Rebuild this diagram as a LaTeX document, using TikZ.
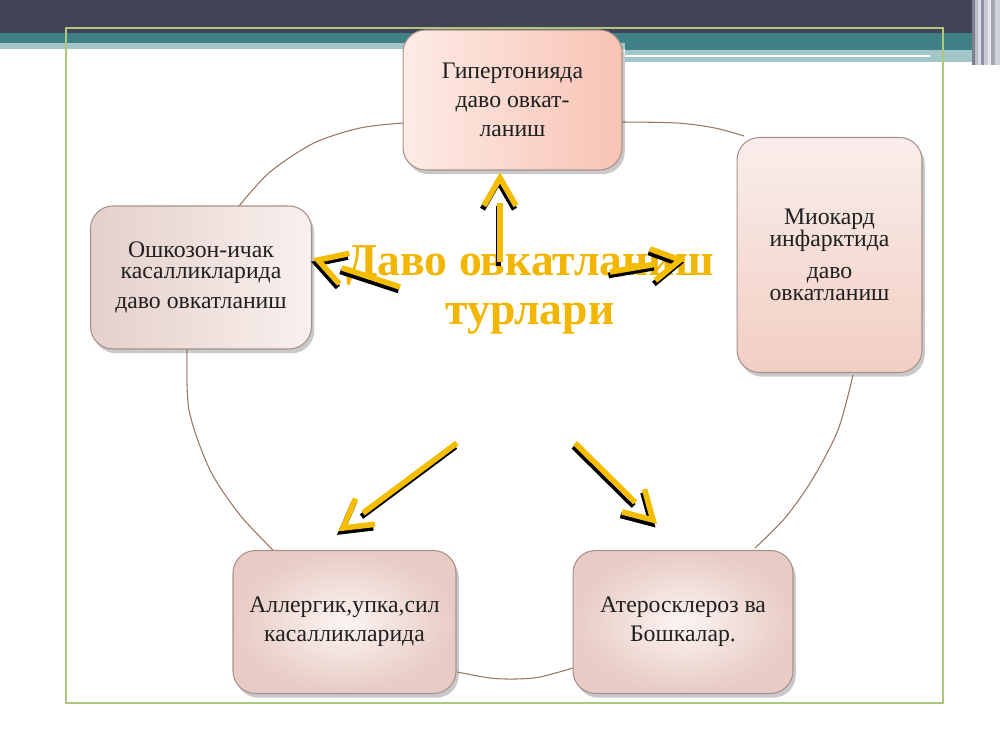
\documentclass[tikz,border=0pt]{standalone}
\usepackage{fontspec}
\setmainfont{Liberation Serif}
\usetikzlibrary{calc,shadows}
\definecolor{topdark}{HTML}{424357}
\definecolor{tealA}{HTML}{3E8086}
\definecolor{tealB}{HTML}{A3C7C9}
\definecolor{framegreen}{HTML}{AEC67E}
\definecolor{arcbrown}{HTML}{9A7560}
\definecolor{goldtxt}{HTML}{F2B600}
\definecolor{goldarr}{HTML}{F5BD00}
\definecolor{boxedge}{HTML}{A8918B}
\definecolor{stA}{HTML}{7D7E90}
\definecolor{stB}{HTML}{B9BAC6}
\definecolor{stC}{HTML}{DADBE3}
\definecolor{stD}{HTML}{8F90A2}
\definecolor{stE}{HTML}{C9CAD4}
\definecolor{stF}{HTML}{E8E8EE}
\definecolor{stG}{HTML}{A5A6B4}
\definecolor{stH}{HTML}{D0D1DA}
\newcommand{\goldarrow}[3]{%
  \coordinate (#1e) at ($(#3)!0.5cm!(#2)$);
  \coordinate (#1a) at ($(#3)!0.64cm!30:(#2)$);
  \coordinate (#1b) at ($(#3)!0.64cm!-30:(#2)$);
  \draw[arrowshadow] ([shift={(-1.5,3.5)}]#2) -- ([shift={(-1.5,3.5)}]#1e);
  \draw[arrowshadow] ([shift={(-1.5,3.5)}]#1a) -- ([shift={(-1.5,3.5)}]#3) -- ([shift={(-1.5,3.5)}]#1b);
  \draw[arrowbody] (#2) -- (#1e);
  \draw[arrowbody] (#1a) -- (#3) -- (#1b);
}
\begin{document}
\begin{tikzpicture}[x=0.02cm,y=-0.02cm,
  box/.style={draw=boxedge, line width=0.6pt, rounded corners=0.45cm, align=center,
    text=black!88, font=\fontsize{13.5}{16.5}\selectfont,
    drop shadow={shadow xshift=1.6pt, shadow yshift=-2.4pt, opacity=0.35, fill=black!60}},
  arcline/.style={draw=arcbrown, line width=0.6pt},
  arrowbody/.style={draw=goldarr, line width=3.2pt, line join=miter},
  arrowshadow/.style={draw=black, line width=3.2pt, line join=miter},
  titletext/.style={text=goldtxt, align=center, font=\bfseries\fontsize{26}{27.5}\selectfont}]
\useasboundingbox (0,0) rectangle (1000,750);
\fill[white] (0,0) rectangle (1000,750);
% top band
\fill[topdark] (0,0) rectangle (1000,33);
\fill[tealA] (0,33) rectangle (972,43);
\fill[tealB] (0,43) rectangle (972,49);
\fill[tealA] (625,43) rectangle (972,50);
\fill[tealB] (625,50) rectangle (972,62);
\fill[white] (625,55) rectangle (930,57);
\fill[stA] (972,0) rectangle (975,65);
\fill[stB] (975,0) rectangle (978,65);
\fill[stC] (978,0) rectangle (981,65);
\fill[stD] (981,0) rectangle (984,65);
\fill[stE] (984,0) rectangle (988,65);
\fill[stF] (988,0) rectangle (991,65);
\fill[stG] (991,0) rectangle (995,65);
\fill[stH] (995,0) rectangle (1000,65);
% frame
\draw[framegreen, line width=1pt] (66,28) rectangle (943,703);
% cycle arcs
\draw[arcline] plot[smooth] coordinates {(187,349) (189,410) (210,470) (240,515) (273,550)};
\draw[arcline] plot[smooth] coordinates {(239,206) (270,172) (314,143) (360,128) (403,123)};
\draw[arcline] plot[smooth] coordinates {(622,122) (677,123) (715,128) (744,136)};
\draw[arcline] plot[smooth] coordinates {(853,375) (838,430) (812,480) (785,518) (755,548)};
\draw[arcline] plot[smooth] coordinates {(573,668) (540,677) (515,679) (490,678) (457,672)};
% boxes
\node[box, minimum width=4.38cm, minimum height=2.8cm, left color={rgb,255:red,253;green,235;blue,230}, right color={rgb,255:red,248;green,195;blue,180}] (top) at (512.5,100) {Гипертонияда\\даво овкат-\\ланиш};
\node[box, minimum width=3.7cm, minimum height=4.7cm, top color={rgb,255:red,249;green,238;blue,236}, bottom color={rgb,255:red,242;green,206;blue,195}] (right) at (829.5,255) {Миокард\\[-4pt]инфарктида\\[2pt]даво\\[-4pt]овкатланиш};
\node[box, minimum width=4.42cm, minimum height=2.86cm, left color={rgb,255:red,228;green,208;blue,203}, right color={rgb,255:red,249;green,240;blue,238}] (left) at (201,277.5) {Ошкозон-ичак\\[-4.5pt]касалликларида\\[0.5pt]даво овкатланиш};
\node[box, minimum width=4.46cm, minimum height=2.86cm, inner color={rgb,255:red,252;green,244;blue,242}, outer color={rgb,255:red,232;green,203;blue,196}] (botleft) at (344.5,622) {Аллергик,упка,сил\\касалликларида};
\node[box, minimum width=4.4cm, minimum height=2.86cm, inner color={rgb,255:red,252;green,244;blue,242}, outer color={rgb,255:red,232;green,203;blue,196}] (botright) at (683,622) {Атеросклероз ва\\Бошкалар.};
% title
\node[titletext] (title) at (530,290) {Даво овкатланиш\\турлари};
% arrows
\coordinate (upS) at (500,262);   \coordinate (upT) at (500,178);
\coordinate (lfS) at (400,287);   \coordinate (lfT) at (318,260);
\coordinate (rtS) at (610,272);   \coordinate (rtT) at (680,260);
\coordinate (dlS) at (457,443);   \coordinate (dlT) at (343,528);
\coordinate (drS) at (575,443);   \coordinate (drT) at (653,520);
\goldarrow{up}{upS}{upT}
\goldarrow{lf}{lfS}{lfT}
\goldarrow{rt}{rtS}{rtT}
\goldarrow{dl}{dlS}{dlT}
\goldarrow{dr}{drS}{drT}
\end{tikzpicture}
\end{document}
